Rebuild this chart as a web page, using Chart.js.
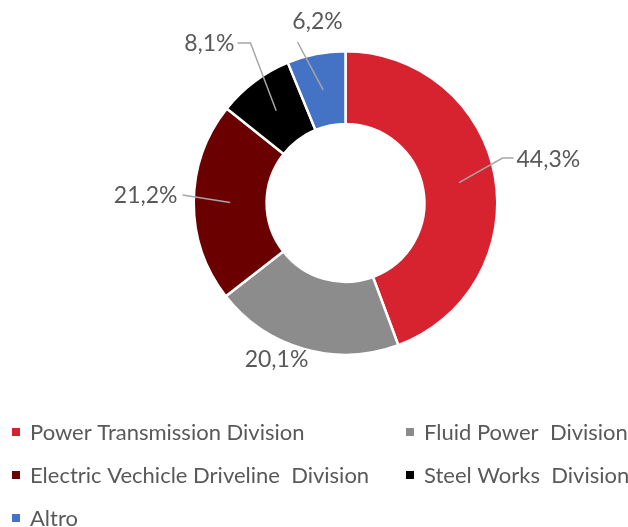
<!DOCTYPE html>
<html>
<head>
<meta charset="utf-8">
<script src="https://cdn.jsdelivr.net/npm/chart.js@4.4.1/dist/chart.umd.min.js"></script>
<style>
html,body{margin:0;padding:0;background:#fff;}
#wrap{position:relative;width:628px;height:527px;}
</style>
</head>
<body>
<div id="wrap"><canvas id="c" width="628" height="527"></canvas></div>
<script>
const categories = ["Power Transmission Division", "Fluid Power  Division", "Electric Vechicle Driveline  Division", "Steel Works  Division", "Altro"];
const values = [44.3, 20.1, 21.2, 8.1, 6.2];
const valueLabels = ["44,3%", "20,1%", "21,2%", "8,1%", "6,2%"];
const colors = ["#D7232F", "#8C8C8C", "#6B0000", "#000000", "#4472C4"];

const FONT = "Lato, 'Liberation Sans', sans-serif";
const TEXT = "#595959";

// label placement (relative to chart centre), styling only
const labelCfg = [
  {line:true, elbow:[157,-45], end:[168,-45], text:[171,-43], align:"left"},
  {line:false, text:[-69,157], align:"center"},
  {line:true, elbow:[-163,-8], end:[-163,-8], text:[-168,-7], align:"right"},
  {line:true, elbow:[-95,-160], end:[-108,-160], text:[-111,-159], align:"right"},
  {line:true, elbow:[-48,-161], end:[-48,-161], text:[-28,-181], align:"center"}
];

const labelPlugin = {
  id: "labels",
  afterDatasetsDraw(chart) {
    const ctx = chart.ctx;
    const meta = chart.getDatasetMeta(0);
    ctx.save();
    meta.data.forEach((arc, i) => {
      const p = arc.getProps(["x","y","startAngle","endAngle","innerRadius","outerRadius"], true);
      const mid = (p.startAngle + p.endAngle) / 2;
      const r = (p.innerRadius + p.outerRadius) / 2;
      const sx = p.x + Math.cos(mid) * r, sy = p.y + Math.sin(mid) * r;
      const c = labelCfg[i];
      if (c.line) {
        ctx.strokeStyle = "#A6A6A6";
        ctx.lineWidth = 1.5;
        ctx.beginPath();
        ctx.moveTo(sx, sy);
        ctx.lineTo(p.x + c.elbow[0], p.y + c.elbow[1]);
        ctx.lineTo(p.x + c.end[0], p.y + c.end[1]);
        ctx.stroke();
      }
      ctx.fillStyle = TEXT;
      ctx.font = "23px " + FONT;
      ctx.textAlign = c.align;
      ctx.textBaseline = "middle";
      ctx.fillText(valueLabels[i], p.x + c.text[0], p.y + c.text[1]);
    });
    ctx.restore();
  }
};

const legendPos = [[12,432],[406,432],[12,475],[406,475],[12,518]];
const legendPlugin = {
  id: "customLegend",
  afterDraw(chart) {
    const ctx = chart.ctx;
    ctx.save();
    categories.forEach((name, i) => {
      const [x, y] = legendPos[i];
      ctx.fillStyle = colors[i];
      ctx.fillRect(x, y - 4, 8, 8);
      ctx.fillStyle = TEXT;
      ctx.font = "22px " + FONT;
      ctx.textAlign = "left";
      ctx.textBaseline = "middle";
      ctx.fillText(name, x + 18, y + 1);
    });
    ctx.restore();
  }
};

new Chart(document.getElementById("c"), {
  type: "doughnut",
  data: {
    labels: categories,
    datasets: [{
      data: values,
      backgroundColor: colors,
      borderColor: "#ffffff",
      borderWidth: 2.5,
      hoverOffset: 0
    }]
  },
  options: {
    responsive: false,
    animation: false,
    cutout: "52%",
    layout: { padding: { left: 100, right: 37, top: 50, bottom: 171 } },
    plugins: { legend: { display: false }, tooltip: { enabled: false } }
  },
  plugins: [labelPlugin, legendPlugin]
});
</script>
</body>
</html>
